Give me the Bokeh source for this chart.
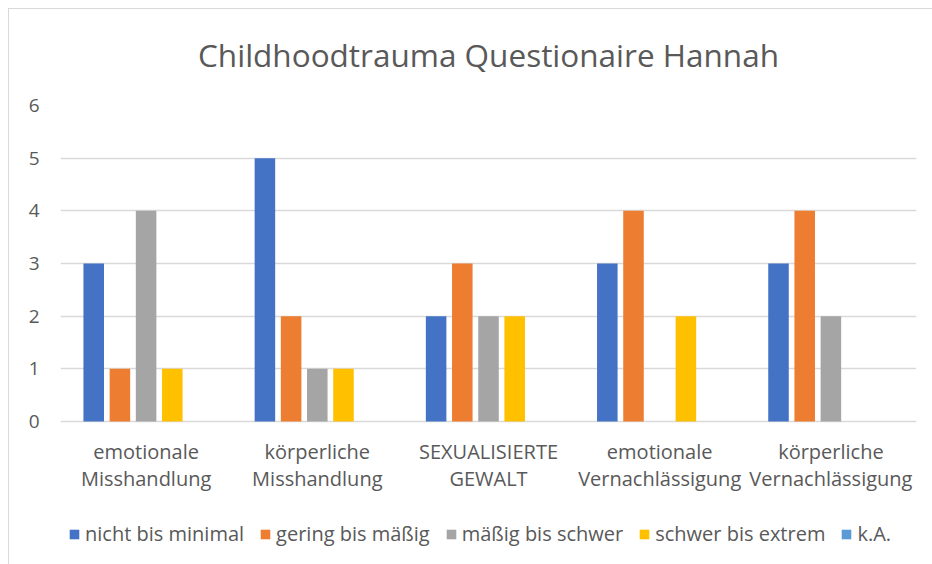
from bokeh.plotting import figure
from bokeh.models import FactorRange, Range1d, Legend, LegendItem, ColumnDataSource, FixedTicker
from bokeh.core.properties import value
from bokeh.transform import dodge
from bokeh.embed import file_html
from bokeh.resources import INLINE

categories = ["emotionale\nMisshandlung", "körperliche\nMisshandlung", "SEXUALISIERTE\nGEWALT",
              "emotionale\nVernachlässigung", "körperliche\nVernachlässigung"]
series_names = ["nicht bis minimal", "gering bis mäßig", "mäßig bis schwer", "schwer bis extrem", "k.A."]
nicht_bis_minimal = [3, 5, 2, 3, 3]
gering_bis_maessig = [1, 2, 3, 4, 4]
maessig_bis_schwer = [4, 1, 2, 0, 2]
schwer_bis_extrem = [1, 1, 2, 2, 0]
k_a = [0, 0, 0, 0, 0]
y_ticks = [0, 1, 2, 3, 4, 5, 6]
colors = ["#4472C4", "#ED7D31", "#A5A5A5", "#FFC000", "#5B9BD5"]

series = [nicht_bis_minimal, gering_bis_maessig, maessig_bis_schwer, schwer_bis_extrem, k_a]
source = ColumnDataSource(data=dict(cat=categories, s0=series[0], s1=series[1], s2=series[2],
                                    s3=series[3], s4=series[4]))

TXT = "#595959"
FONT = "Open Sans"

# frame extends below zero so category labels and legend can live inside it
p = figure(frame_width=856, frame_height=460, x_range=FactorRange(*categories, range_padding=0),
           y_range=Range1d(-2.734, 6), output_backend="svg", toolbar_location=None,
           min_border_left=60, min_border_right=16, min_border_top=104, min_border_bottom=0,
           x_axis_location=None)
p.border_fill_color = None
p.background_fill_color = "white"
p.styles = {"background": "linear-gradient(#d9d9d9, #d9d9d9) 8px 8px / 100% 1px no-repeat, "
                          "linear-gradient(#d9d9d9, #d9d9d9) 8px 8px / 1px 100% no-repeat, white"}

p.title.text = "Childhoodtrauma Questionaire Hannah"
p.title.align = "center"
p.title.text_font = FONT
p.title.text_font_size = "31.5px"
p.title.text_font_style = "normal"
p.title.text_color = TXT
p.title.standoff = 60

step = 0.153
items = []
for i, name in enumerate(series_names):
    r = p.vbar(x=dodge("cat", (i - 2) * step, range=p.x_range), top="s%d" % i, width=0.12,
               source=source, fill_color=colors[i], line_color=None)
    items.append(LegendItem(label=name, renderers=[r]))

# category labels
p.text(x="cat", y=-0.305, text="cat", source=source, text_align="center", text_baseline="top",
       text_font=value(FONT), text_font_size="20px", text_color=TXT, text_line_height=1.0)

p.xgrid.grid_line_color = None
p.ygrid.ticker = FixedTicker(ticks=y_ticks)
p.ygrid.grid_line_color = "#d9d9d9"
p.ygrid.grid_line_width = 1.3
p.yaxis.ticker = FixedTicker(ticks=y_ticks)
p.yaxis.axis_line_color = None
p.yaxis.major_tick_line_color = None
p.yaxis.minor_tick_line_color = None
p.yaxis.major_label_text_font = FONT
p.yaxis.major_label_text_font_size = "19px"
p.yaxis.major_label_text_color = TXT
p.yaxis.major_label_standoff = 15

p.outline_line_color = None

legend = Legend(items=items, orientation="horizontal", location=(8, 18),
                label_text_font=FONT, label_text_font_size="20px", label_text_color=TXT,
                glyph_width=12, glyph_height=12, label_standoff=5, spacing=15,
                padding=0, margin=0, border_line_color=None, background_fill_alpha=0)
p.add_layout(legend, "center")

open("out.html", "w").write(file_html(p, INLINE))
